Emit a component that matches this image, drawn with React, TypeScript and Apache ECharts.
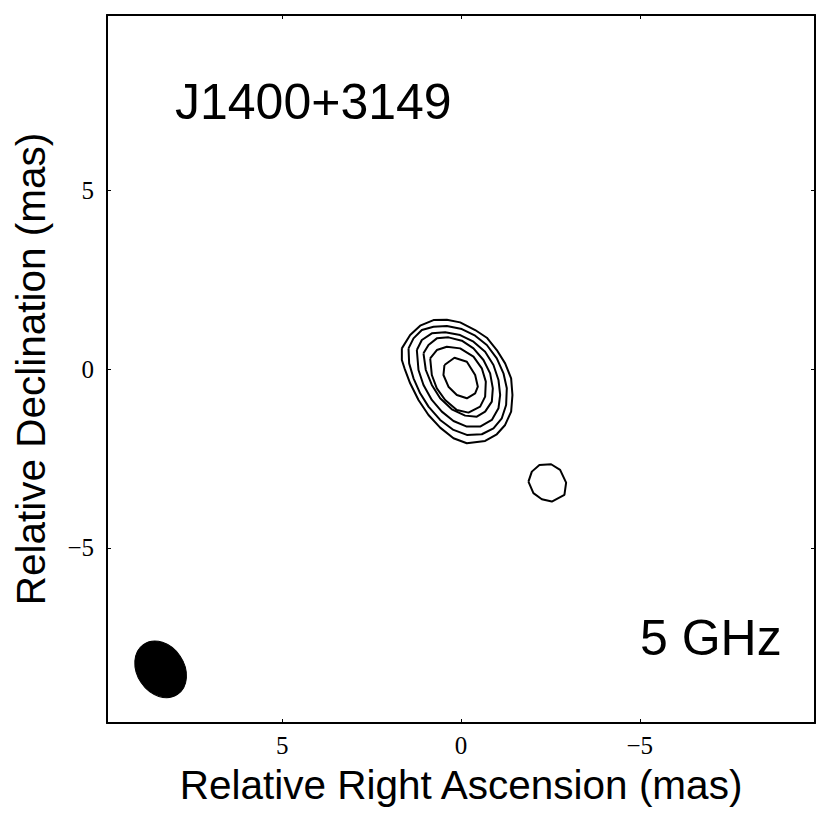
import React, { useEffect, useRef } from "react";
import * as echarts from "echarts";

// Axis ranges (mas)
const AXIS_MIN = -9.9;
const AXIS_MAX = 9.9;
const TICK_VALUES = [-5, 0, 5];

// Texts
const SOURCE_NAME = "J1400+3149";
const FREQ_LABEL = "5 GHz";
const X_TITLE = "Relative Right Ascension (mas)";
const Y_TITLE = "Relative Declination (mas)";

const contour1: [number, number][] = [
  [1.654, 0.577], [1.654, 0.251], [1.58, 0.019], [1.422, -0.4], [1.189, -0.866],
  [0.909, -1.285], [0.583, -1.639], [0.21, -1.937], [-0.163, -2.077], [-0.675, -2.012],
  [-1.001, -1.825], [-1.234, -1.565], [-1.402, -1.192], [-1.439, -0.726], [-1.402, -0.261],
  [-1.234, 0.158], [-1.001, 0.531], [-0.722, 0.875], [-0.396, 1.09], [0.024, 1.304],
  [0.396, 1.378], [0.769, 1.369], [1.142, 1.211], [1.422, 0.95], [1.654, 0.577],
];
const contour2: [number, number][] = [
  [1.468, 0.577], [1.45, 0.158], [1.328, -0.261], [1.142, -0.68], [0.909, -1.052],
  [0.583, -1.425], [0.21, -1.704], [-0.163, -1.844], [-0.582, -1.825], [-0.908, -1.658],
  [-1.141, -1.378], [-1.262, -1.006], [-1.281, -0.54], [-1.188, -0.121], [-1.001, 0.298],
  [-0.722, 0.671], [-0.396, 0.931], [-0.023, 1.118], [0.396, 1.201], [0.769, 1.183],
  [1.095, 1.09], [1.328, 0.857], [1.468, 0.577],
];
const contour3: [number, number][] = [
  [1.235, 0.531], [1.189, -0.028], [1.049, -0.447], [0.816, -0.866], [0.536, -1.192],
  [0.21, -1.453], [-0.163, -1.611], [-0.535, -1.611], [-0.862, -1.425], [-1.048, -1.099],
  [-1.095, -0.726], [-1.048, -0.307], [-0.908, 0.112], [-0.675, 0.484], [-0.349, 0.764],
  [0.024, 0.95], [0.443, 1.025], [0.816, 0.997], [1.095, 0.81], [1.235, 0.531],
];
const contour4: [number, number][] = [
  [1.049, 0.438], [0.984, -0.028], [0.816, -0.447], [0.583, -0.82], [0.257, -1.127],
  [-0.116, -1.304], [-0.442, -1.332], [-0.675, -1.192], [-0.862, -0.913], [-0.89, -0.54],
  [-0.815, -0.121], [-0.628, 0.251], [-0.349, 0.577], [-0.023, 0.792], [0.35, 0.885],
  [0.676, 0.857], [0.909, 0.671], [1.049, 0.438],
];
const contour5: [number, number][] = [
  [0.862, 0.298], [0.816, -0.168], [0.676, -0.54], [0.443, -0.866], [0.117, -1.146],
  [-0.209, -1.22], [-0.535, -1.052], [-0.675, -0.773], [-0.694, -0.354], [-0.582, 0.019],
  [-0.349, 0.345], [0.024, 0.577], [0.396, 0.624], [0.676, 0.531], [0.862, 0.298],
];
const contour6: [number, number][] = [
  [0.463, 0.112], [0.183, 0.316], [-0.164, 0.204], [-0.396, -0.168], [-0.471, -0.495],
  [-0.396, -0.679], [-0.164, -0.819], [0.116, -0.726], [0.351, -0.495], [0.491, -0.168],
  [0.463, 0.112],
];
// Secondary component south-west of the core
const knotContour: [number, number][] = [
  [-1.886, -3.149], [-1.981, -2.87], [-2.193, -2.682], [-2.52, -2.663], [-2.772, -2.822],
  [-2.94, -3.177], [-2.892, -3.521], [-2.54, -3.708], [-2.26, -3.641], [-2.025, -3.473],
  [-1.886, -3.149],
];

const CONTOURS = [contour1, contour2, contour3, contour4, contour5, contour6, knotContour];

// Restoring beam: [RA centre, Dec centre, minor semi-axis, major semi-axis, PA deg]
const BEAM: [number, number, number, number, number][] = [[8.4, -8.4, 0.66, 0.845, 34]];

const fmtTick = (v: number) => {
  if (Math.abs(v % 5) > 1e-6) return "";
  const s = String(Math.round(v));
  return s.replace("-", "\u2212");
};

export default function App() {
  const ref = useRef<HTMLDivElement>(null);
  useEffect(() => {
    if (!ref.current) return;
    const chart = echarts.init(ref.current, undefined, { renderer: "svg" });
    const lineBase = { show: true, onZero: false, lineStyle: { color: "#000", width: 2 } };
    const tickFont = { fontFamily: "Liberation Serif", fontSize: 25, color: "#000" };
    const commonX = {
      type: "value" as const,
      min: AXIS_MIN,
      max: AXIS_MAX,
      splitNumber: 4,
      inverse: true,
      splitLine: { show: false },
    };
    const commonY = {
      type: "value" as const,
      min: AXIS_MIN,
      max: AXIS_MAX,
      splitNumber: 4,
      splitLine: { show: false },
    };
    const tickIn = {
      show: true,
      inside: true,
      length: 4,
      customValues: TICK_VALUES,
      lineStyle: { color: "#000", width: 1 },
    };
    const labelBase = { ...tickFont, formatter: fmtTick, customValues: TICK_VALUES };

    chart.setOption({
      animation: false,
      backgroundColor: "#fff",
      grid: { left: 107, top: 15, width: 708, height: 708, containLabel: false },
      xAxis: [
        {
          ...commonX,
          position: "bottom",
          axisLine: lineBase,
          axisTick: tickIn,
          axisLabel: { ...labelBase, margin: 10 },
          name: X_TITLE,
          nameLocation: "middle",
          nameGap: 41,
          nameTextStyle: { fontFamily: "Liberation Sans", fontSize: 40.5, color: "#000" },
        },
        { ...commonX, position: "top", axisLine: lineBase, axisTick: tickIn, axisLabel: { show: false } },
      ],
      yAxis: [
        {
          ...commonY,
          position: "left",
          axisLine: lineBase,
          axisTick: tickIn,
          axisLabel: { ...labelBase, margin: 13 },
          name: Y_TITLE,
          nameLocation: "middle",
          nameGap: 56,
          nameTextStyle: { fontFamily: "Liberation Sans", fontSize: 40.5, color: "#000" },
        },
        { ...commonY, position: "right", axisLine: lineBase, axisTick: tickIn, axisLabel: { show: false } },
      ],
      graphic: [
        {
          type: "text",
          left: 175,
          top: 77,
          style: { text: SOURCE_NAME, fontFamily: "Liberation Sans", fontSize: 50, fill: "#000" },
        },
        {
          type: "text",
          left: 640,
          top: 613,
          style: { text: FREQ_LABEL, fontFamily: "Liberation Sans", fontSize: 50, fill: "#000" },
        },
      ],
      series: [
        ...CONTOURS.map((c, i) => ({
          type: "line",
          name: `contour${i + 1}`,
          xAxisIndex: 0,
          yAxisIndex: 0,
          data: c,
          showSymbol: false,
          symbol: "none",
          smooth: false,
          lineStyle: { color: "#000", width: 2 },
          z: 3,
        })),
        {
          type: "custom",
          name: "beam",
          xAxisIndex: 0,
          yAxisIndex: 0,
          data: BEAM,
          renderItem: (_params: any, api: any) => {
            const c = api.coord([api.value(0), api.value(1)]);
            const s = api.size([api.value(2), api.value(3)]);
            return {
              type: "ellipse",
              x: c[0],
              y: c[1],
              rotation: (api.value(4) * Math.PI) / 180,
              shape: { cx: 0, cy: 0, rx: Math.abs(s[0]), ry: Math.abs(s[1]) },
              style: { fill: "#000", stroke: "#000", lineWidth: 1 },
            };
          },
          z: 3,
        },
      ],
    });
    return () => chart.dispose();
  }, []);
  return (
    <div
      ref={ref}
      style={{ position: "absolute", left: 0, top: 0, width: 830, height: 822, background: "#fff" }}
    />
  );
}
